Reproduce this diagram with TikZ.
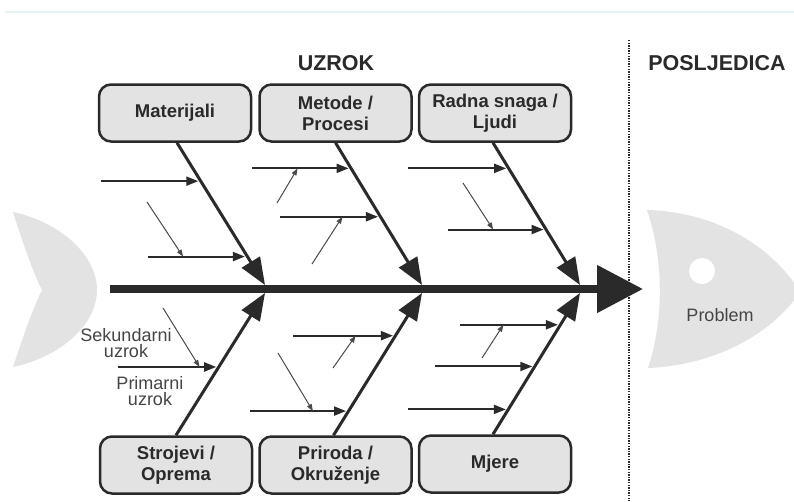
\documentclass[tikz,border=0pt]{standalone}
\usepackage{fontspec}
\setmainfont{Liberation Sans}
\usetikzlibrary{arrows.meta,calc}
\definecolor{ink}{HTML}{2A2A2A}
\definecolor{boxfill}{HTML}{E3E3E3}
\definecolor{fishgray}{HTML}{E3E3E3}
\definecolor{labelgray}{HTML}{454545}
\definecolor{faint}{HTML}{E2F3F5}
\begin{document}
\begin{tikzpicture}[x=1pt,y=-1pt,
  catbox/.style={draw=ink, line width=2.5pt, fill=boxfill, rounded corners=12pt,
    minimum width=152pt, minimum height=57pt, align=center, inner sep=0pt,
    text=ink, font=\fontsize{18.5}{21}\selectfont\bfseries},
  title/.style={text=ink, font=\fontsize{21.5}{24}\selectfont\bfseries},
  note/.style={text=labelgray, align=center, font=\fontsize{18}{16.5}\selectfont},
  bone/.style={draw=ink, line width=3pt, -{Triangle[length=27pt,width=21pt]}},
  primarrow/.style={draw=ink, line width=2pt, -{Triangle[length=12pt,width=9pt]}},
  secarrow/.style={draw=ink!85, line width=1pt, -{Triangle[length=7pt,width=5pt]}},
  fishpart/.style={fill=fishgray, draw=none}
]
\useasboundingbox (0,0) rectangle (794,501);
\fill[white] (0,0) rectangle (794,501);
\draw[faint, line width=1.2pt] (5,12) -- (794,12);

% fish tail and head
\path[fishpart] (13,212) .. controls (60,222) and (97,255) .. (97,290)
  .. controls (97,325) and (60,357) .. (13,367)
  .. controls (22,340) and (32,310) .. (42,290)
  .. controls (32,270) and (22,240) .. (13,212) -- cycle;
\path[fishpart] (647,210) .. controls (720,212) and (775,250) .. (800,292)
  .. controls (775,330) and (720,365) .. (648,368)
  .. controls (664,320) and (664,260) .. (647,210) -- cycle;
\fill[white] (702,271) circle (13);
\node[text=labelgray, font=\fontsize{18}{20}\selectfont] (prob) at (720,315) {Problem};

% divider
\coordinate (dv0) at (629,40);
\coordinate (dv1) at (629,501);
\draw[ink, line width=2pt, dash pattern=on 1.3pt off 1.3pt] (dv0) -- (dv1);

% titles
\node[title] (uzrok) at (336,63) {UZROK};
\node[title] (posl) at (717,63) {POSLJEDICA};

% spine
\coordinate (sp0) at (110,289);
\coordinate (sp1) at (643,289);
\draw[ink, line width=8pt, -{Triangle[length=46pt,width=46pt]}] (sp0) -- (sp1);

% category boxes
\node[catbox] (mat) at (175,113) {Materijali};
\node[catbox] (met) at (335.5,113) {Metode /\\Procesi};
\node[catbox] (rad) at (495,113) {Radna snaga /\\Ljudi};
\node[catbox] (str) at (176,465) {Strojevi /\\Oprema};
\node[catbox] (pri) at (335.5,465) {Priroda /\\Okruženje};
\node[catbox] (mje) at (495,464) {Mjere};

% bone tips
\coordinate (t1) at (265,285);
\coordinate (t2) at (422,285);
\coordinate (t3) at (580,285);
\coordinate (b1) at (265,293);
\coordinate (b2) at (422,293);
\coordinate (b3) at (580,293);

\draw[bone] ([xshift=2pt]mat.south) -- (t1);
\draw[bone] (met.south) -- (t2);
\draw[bone] ([xshift=-2pt]rad.south) -- (t3);
\draw[bone] (str.north) -- (b1);
\draw[bone] ([xshift=-2pt]pri.north) -- (b2);
\draw[bone] ([xshift=-2pt]mje.north) -- (b3);

% primary causes (horizontal)
\coordinate (m1e) at ($([xshift=2pt]mat.south)!0.27!(t1)$);
\coordinate (m1s) at ([xshift=-100pt]m1e);
\coordinate (m2e) at ($([xshift=2pt]mat.south)!0.80!(t1)$);
\coordinate (m2s) at ([xshift=-99pt]m2e);
\coordinate (p1e) at ($(met.south)!0.18!(t2)$);
\coordinate (p1s) at ([xshift=-99pt]p1e);
\coordinate (p2e) at ($(met.south)!0.52!(t2)$);
\coordinate (p2s) at ([xshift=-100pt]p2e);
\coordinate (r1e) at ($([xshift=-2pt]rad.south)!0.18!(t3)$);
\coordinate (r1s) at ([xshift=-101pt]r1e);
\coordinate (r2e) at ($([xshift=-2pt]rad.south)!0.61!(t3)$);
\coordinate (r2s) at ([xshift=-98pt]r2e);
\coordinate (s1e) at ($(str.north)!0.48!(b1)$);
\coordinate (s1s) at ([xshift=-101pt]s1e);
\coordinate (o1e) at ($([xshift=-2pt]pri.north)!0.70!(b2)$);
\coordinate (o1s) at ([xshift=-102pt]o1e);
\coordinate (o2e) at ($([xshift=-2pt]pri.north)!0.17!(b2)$);
\coordinate (o2s) at ([xshift=-99pt]o2e);
\coordinate (j1e) at ($([xshift=-2pt]mje.north)!0.775!(b3)$);
\coordinate (j1s) at ([xshift=-100pt]j1e);
\coordinate (j2e) at ($([xshift=-2pt]mje.north)!0.48!(b3)$);
\coordinate (j2s) at ([xshift=-100pt]j2e);
\coordinate (j3e) at ($([xshift=-2pt]mje.north)!0.176!(b3)$);
\coordinate (j3s) at ([xshift=-100pt]j3e);

\foreach \a in {m1,m2,p1,p2,r1,r2,s1,o1,o2,j1,j2,j3}
  \draw[primarrow] (\a s) -- ([xshift=-2.5pt]\a e);

% secondary causes (thin)
\coordinate (sm2) at (147,202);
\coordinate (sp1a) at (277,203);
\coordinate (sp2a) at (312,264);
\coordinate (sr2) at (463,183);
\coordinate (ss1) at (163,308);
\coordinate (so1) at (333,368);
\coordinate (so2) at (278,353);
\coordinate (sj1) at (482,358);

\draw[secarrow] (sm2) -- ($(m2s)!0.35!(m2e)$);
\draw[secarrow] (sp1a) -- ($(p1s)!0.46!(p1e)$);
\draw[secarrow] (sp2a) -- ($(p2s)!0.62!(p2e)$);
\draw[secarrow] (sr2) -- ($(r2s)!0.46!(r2e)$);
\draw[secarrow] (ss1) -- ($(s1s)!0.81!(s1e)$);
\draw[secarrow] (so1) -- ($(o1s)!0.61!(o1e)$);
\draw[secarrow] (so2) -- ($(o2s)!0.64!(o2e)$);
\draw[secarrow] (sj1) -- ($(j1s)!0.43!(j1e)$);

% legend labels
\node[note] (seklab) at (126,343) {Sekundarni\\uzrok};
\node[note] (primlab) at (150,391) {Primarni\\uzrok};
\end{tikzpicture}
\end{document}
